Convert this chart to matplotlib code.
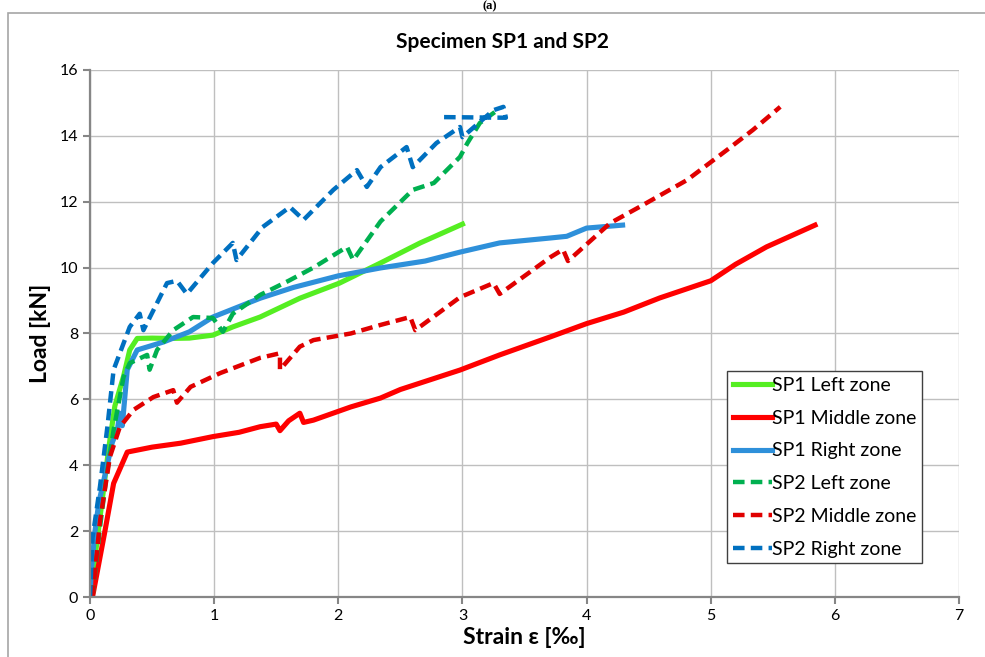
import matplotlib.pyplot as plt
from matplotlib.patches import Rectangle

plt.rcParams['font.family'] = ['Lato', 'DejaVu Sans']

# strain [permille] and load [kN]
sp1_left_x = [0.0, 0.05, 0.1, 0.15, 0.2, 0.27, 0.32, 0.38, 0.5, 0.65, 0.8, 0.99, 1.15, 1.37, 1.69, 2.01, 2.34, 2.66, 3.0]
sp1_left_y = [0.0, 1.5, 3.0, 4.5, 5.8, 6.7, 7.5, 7.85, 7.86, 7.85, 7.86, 7.95, 8.2, 8.5, 9.07, 9.53, 10.14, 10.75, 11.32]

sp1_mid_x = [0.02, 0.07, 0.12, 0.19, 0.3, 0.5, 0.73, 0.99, 1.2, 1.37, 1.5, 1.53, 1.6, 1.69, 1.72, 1.8, 2.1, 2.34, 2.5, 2.98, 3.3, 3.71, 4.0, 4.3, 4.59, 5.0, 5.2, 5.45, 5.84]
sp1_mid_y = [0.0, 1.0, 2.0, 3.45, 4.4, 4.55, 4.67, 4.87, 5.0, 5.17, 5.25, 5.05, 5.35, 5.58, 5.3, 5.37, 5.77, 6.04, 6.3, 6.89, 7.35, 7.9, 8.3, 8.65, 9.08, 9.6, 10.1, 10.63, 11.29]

sp1_right_x = [0.0, 0.01, 0.04, 0.07, 0.12, 0.18, 0.22, 0.24, 0.26, 0.3, 0.38, 0.59, 0.8, 0.99, 1.37, 1.64, 2.0, 2.34, 2.7, 2.98, 3.3, 3.71, 3.84, 4.0, 4.29]
sp1_right_y = [0.0, 0.8, 2.0, 2.85, 3.7, 4.7, 5.07, 5.58, 5.2, 6.9, 7.5, 7.74, 8.05, 8.5, 9.07, 9.4, 9.75, 9.99, 10.2, 10.47, 10.75, 10.9, 10.95, 11.2, 11.29]

sp2_left_x = [0.02, 0.08, 0.13, 0.19, 0.27, 0.32, 0.46, 0.48, 0.54, 0.67, 0.83, 0.99, 1.07, 1.15, 1.37, 1.6, 1.8, 2.07, 2.12, 2.34, 2.6, 2.77, 2.98, 3.04, 3.14, 3.26]
sp2_left_y = [0.0, 2.1, 3.6, 5.07, 6.68, 7.1, 7.35, 6.9, 7.5, 8.1, 8.5, 8.47, 8.05, 8.6, 9.17, 9.6, 10.0, 10.63, 10.23, 11.4, 12.36, 12.57, 13.36, 13.78, 14.39, 14.72]

sp2_mid_x = [0.02, 0.08, 0.16, 0.24, 0.35, 0.51, 0.67, 0.7, 0.81, 1.05, 1.37, 1.53, 1.53, 1.69, 1.8, 2.1, 2.34, 2.58, 2.62, 2.98, 3.25, 3.3, 3.71, 3.81, 3.85, 4.19, 4.43, 4.81, 5.13, 5.34, 5.56]
sp2_mid_y = [0.0, 2.3, 4.25, 5.16, 5.68, 6.07, 6.28, 5.9, 6.38, 6.8, 7.26, 7.4, 6.9, 7.6, 7.8, 8.0, 8.26, 8.5, 8.1, 9.1, 9.53, 9.2, 10.32, 10.55, 10.2, 11.35, 11.85, 12.66, 13.57, 14.18, 14.88]

sp2_right_x = [0.0, 0.02, 0.08, 0.14, 0.19, 0.24, 0.32, 0.4, 0.43, 0.62, 0.7, 0.78, 0.99, 1.15, 1.18, 1.39, 1.61, 1.72, 1.96, 2.15, 2.23, 2.34, 2.55, 2.6, 2.79, 2.98, 3.0, 3.14, 3.25, 3.33, 3.35, 2.82]
sp2_right_y = [0.0, 1.8, 3.35, 5.17, 6.9, 7.4, 8.2, 8.6, 8.1, 9.53, 9.6, 9.2, 10.14, 10.75, 10.23, 11.23, 11.84, 11.45, 12.36, 12.96, 12.45, 13.05, 13.66, 13.05, 13.78, 14.27, 13.96, 14.42, 14.78, 14.88, 14.55, 14.57]

fig = plt.figure(figsize=(9.85, 6.57), dpi=100)
ax = fig.add_axes([0.0914, 0.0913, 0.8822, 0.8022])

# outer chart frame
fig.patches.append(Rectangle((8 / 985, -0.1), 1.2, 1.1 - 13 / 657, transform=fig.transFigure,
                             fill=False, edgecolor='#a6a6a6', linewidth=1.2))

dash = (0, (2.6, 1.4))
ax.plot(sp1_left_x, sp1_left_y, color='#55ee22', lw=3.7, label='SP1 Left zone')
ax.plot(sp1_mid_x, sp1_mid_y, color='#ff0000', lw=3.7, label='SP1 Middle zone')
ax.plot(sp1_right_x, sp1_right_y, color='#2e90da', lw=3.7, label='SP1 Right zone')
ax.plot(sp2_left_x, sp2_left_y, color='#00b050', lw=3.2, ls=dash, label='SP2 Left zone')
ax.plot(sp2_mid_x, sp2_mid_y, color='#e00000', lw=3.2, ls=dash, label='SP2 Middle zone')
ax.plot(sp2_right_x, sp2_right_y, color='#0070c0', lw=3.2, ls=dash, label='SP2 Right zone')

ax.set_xlim(0, 7)
ax.set_ylim(0, 16)
ax.set_xticks(range(0, 8))
ax.set_yticks(range(0, 17, 2))
ax.grid(True, color='#bfbfbf', lw=1)
ax.set_axisbelow(True)
for s in ['top', 'right']:
    ax.spines[s].set_visible(False)
for s in ['left', 'bottom']:
    ax.spines[s].set_color('#868686')
    ax.spines[s].set_linewidth(1.6)
ax.tick_params(colors='#868686', labelcolor='black', labelsize=11.5, length=5, width=1.5)

ax.set_xlabel('Strain ε [‰]', fontsize=16.5, fontweight='bold', labelpad=3)
ax.set_ylabel('Load [kN]', fontsize=16.5, fontweight='bold', labelpad=6)
fig.text(503 / 985, 1 - 42 / 657, 'Specimen SP1 and SP2', ha='center', va='center',
         fontsize=15, fontweight='bold')
fig.text(0.497, 0.999, '(a)', ha='center', va='top', fontsize=9,
         fontweight='bold', family='Liberation Serif')

leg = ax.legend(loc='upper left', bbox_to_anchor=(0.733, 0.4288), fontsize=14,
                fancybox=False, edgecolor='#404040', framealpha=1, handlelength=2.0,
                handletextpad=0.0, labelspacing=0.81, borderpad=0.3, borderaxespad=0)
leg.get_frame().set_linewidth(1.0)

fig.savefig('out.png', dpi=100)
